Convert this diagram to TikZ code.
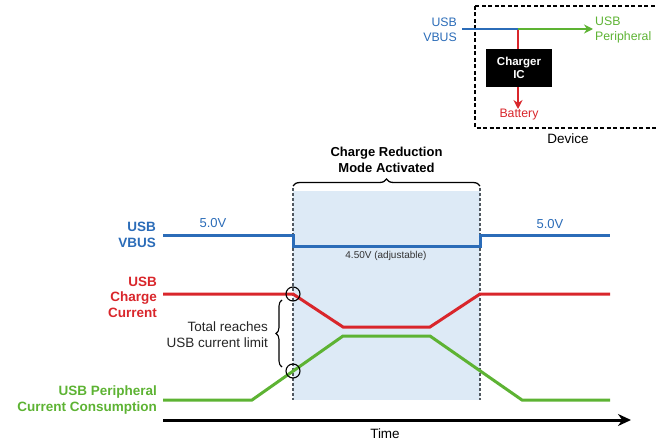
\documentclass[tikz,border=0pt]{standalone}
\usepackage{fontspec}
\setmainfont{Liberation Sans}
\usetikzlibrary{arrows.meta,decorations.pathreplacing}
\definecolor{sigblue}{HTML}{2B6CB8}
\definecolor{sigred}{HTML}{D9262B}
\definecolor{siggreen}{HTML}{5DB333}
\definecolor{shadeblue}{HTML}{DDEAF6}
\definecolor{guide}{HTML}{505860}
\tikzset{
  sig/.style={line width=3pt},
  lbl/.style={font=\bfseries\fontsize{13.5}{15.5}\selectfont, align=right, anchor=east, inner sep=0pt},
  val/.style={font=\fontsize{13}{15}\selectfont, inner sep=0pt},
  guideline/.style={guide, line width=1.1pt, dash pattern=on 3pt off 2pt},
  mark circle/.style={draw=black, line width=1.1pt, circle, minimum size=14pt, inner sep=0pt},
  small/.style={font=\fontsize{12.3}{15}\selectfont, inner sep=0pt},
}
\begin{document}
\begin{tikzpicture}[x=1pt,y=-1pt]
\useasboundingbox (0,0) rectangle (657,444);
% shaded region
\fill[shadeblue] (293,191) rectangle (480,400);
\coordinate (gl1) at (293,188);
\coordinate (gl2) at (293,400);
\coordinate (gr1) at (480,188);
\coordinate (gr2) at (480,400);
\draw[guideline] (gl1) -- (gl2);
\draw[guideline] (gr1) -- (gr2);
% brace top
\coordinate (bl) at (293,186);
\coordinate (br) at (480,186);
\draw[line width=1.3pt, decorate, decoration={brace, amplitude=7pt}] (bl) -- (br)
  node[midway, above=13pt, font=\bfseries\fontsize{13}{16}\selectfont, align=center, inner sep=0pt] (crm) {Charge Reduction\\Mode Activated};
% VBUS
\coordinate (v0) at (163,235);
\coordinate (v1) at (293,235);
\coordinate (v2) at (293,246);
\coordinate (v3) at (480,246);
\coordinate (v4) at (480,235);
\coordinate (v5) at (610,235);
\draw[sig, sigblue] (v0) -- (v1) -- (v2) -- (v3) -- (v4) -- (v5);
\node[val, sigblue] (v5l) at (213,223) {5.0V};
\node[val, sigblue] (v5r) at (550,224) {5.0V};
\node[font=\fontsize{10}{12}\selectfont, inner sep=0pt, text=black!80] (adj) at (386,256) {4.50V (adjustable)};
% red
\coordinate (r0) at (163,294);
\coordinate (r1) at (293,294);
\coordinate (r2) at (343,327);
\coordinate (r3) at (430,327);
\coordinate (r4) at (480,294);
\coordinate (r5) at (610,294);
\draw[sig, sigred] (r0) -- (r1) -- (r2) -- (r3) -- (r4) -- (r5);
% green
\coordinate (g0) at (163,400);
\coordinate (g1) at (252,400);
\coordinate (g2) at (343,336);
\coordinate (g3) at (430,336);
\coordinate (g4) at (522,400);
\coordinate (g5) at (610,400);
\draw[sig, siggreen] (g0) -- (g1) -- (g2) -- (g3) -- (g4) -- (g5);
% circles
\node[mark circle] (c1) at (293,294) {};
\node[mark circle] (c2) at (293,371) {};
% side brace
\coordinate (sb1) at (282,367);
\coordinate (sb2) at (282,300);
\draw[line width=1.1pt, decorate, decoration={brace, amplitude=6pt}] (sb1) -- (sb2);
\node[font=\fontsize{13.5}{16}\selectfont, align=right, anchor=east, inner sep=0pt, text=black!85] (tot) at (268,335) {Total reaches\\USB current limit};
% left labels
\node[lbl, text=sigblue] (lv) at (156,235) {USB\\VBUS};
\node[lbl, text=sigred] (lr) at (157,297) {USB\\Charge\\Current};
\node[lbl, text=siggreen] (lg) at (157,400) {USB Peripheral\\Current Consumption};
% time axis
\coordinate (t0) at (163,420);
\coordinate (t1) at (631,420);
\draw[line width=3pt, -{Stealth[length=13pt,width=12pt]}] (t0) -- (t1);
\node[font=\fontsize{13.5}{16}\selectfont, inner sep=0pt] (time) at (385,434) {Time};
% inset
\draw[line width=1.2pt, dash pattern=on 4pt off 2.5pt] (475,6) rectangle (680,128);
\node[anchor=north, font=\fontsize{13.5}{16}\selectfont, inner sep=0pt] (dev) at (568,134) {Device};
\node[fill=black, minimum width=66pt, minimum height=38pt, inner sep=0pt, align=center, text=white, font=\bfseries\fontsize{11.5}{13.5}\selectfont] (chg) at (519,68) {Charger\\IC};
\coordinate (ib0) at (462,29);
\coordinate (ij) at (518,29);
\coordinate (ig) at (593,29);
\coordinate (ibat) at (518,109);
\draw[line width=2.6pt, sigred] (ij) -- (chg.north -| ij);
\draw[line width=2.6pt, sigred, -{Stealth[length=9pt,width=9pt]}] (chg.south -| ij) -- (ibat);
\draw[line width=2.6pt, siggreen, -{Stealth[length=9pt,width=9pt]}] (ij) -- (ig);
\draw[line width=2.6pt, sigblue] (ib0) -- (ij);
\node[small, text=sigblue, align=right, anchor=east] (iv) at (457,30) {USB\\VBUS};
\node[small, text=siggreen, align=left, anchor=west] (ip) at (595,30) {USB\\Peripheral};
\node[small, text=sigred] (ibt) at (519,115) {Battery};
\end{tikzpicture}
\end{document}
